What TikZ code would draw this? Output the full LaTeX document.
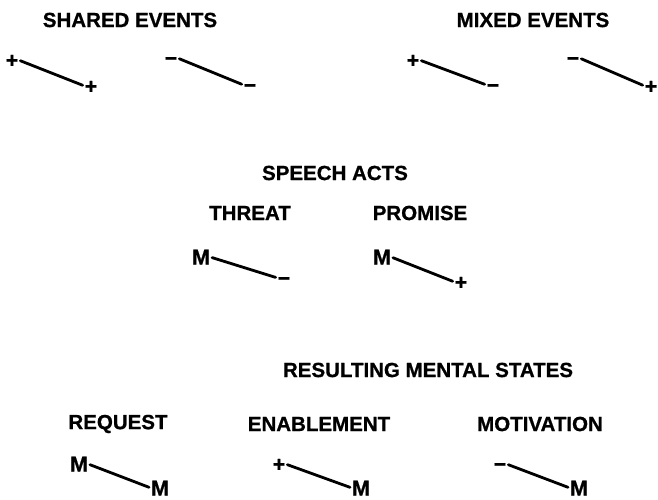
\documentclass[tikz,border=0pt]{standalone}
\usepackage{fontspec}
\setmainfont{Liberation Sans}
\newfontfamily\boldface[FakeBold=0.8]{Liberation Sans Bold}
\begin{document}
\begin{tikzpicture}[
  x=1pt,
  y=-1pt,
  line cap=round,
  heading/.style={font=\boldface\fontsize{20.5}{24}\selectfont,inner sep=0pt},
  sign/.style={font=\boldface\fontsize{21.5}{26}\selectfont,inner sep=0pt,text height=15pt,text depth=0pt},
  link/.style={draw=black,line width=2.8pt,shorten <=2pt,shorten >=2pt}
]
  \useasboundingbox (0,0) rectangle (658,500);

  % Group headings.
  \node[heading] (shared) at (130,20) {SHARED EVENTS};
  \node[heading] (mixed) at (533,20) {MIXED EVENTS};
  \node[heading] (speech) at (335,173) {SPEECH ACTS};
  \node[heading] (threat) at (250,213) {THREAT};
  \node[heading] (promise) at (420,213) {PROMISE};
  \node[heading] (result) at (428,370) {RESULTING MENTAL STATES};
  \node[heading] (request) at (118,424) {REQUEST};
  \node[heading] (enable) at (319,424) {ENABLEMENT};
  \node[heading] (motive) at (540,424) {MOTIVATION};

  % Shared and mixed events.
  \node[sign] (shpA) at (12,60) {+};
  \node[sign] (shpB) at (91,86) {+};
  \node[sign] (shmA) at (171,58) {−};
  \node[sign] (shmB) at (250,85) {−};
  \node[sign] (mxpA) at (413,60) {+};
  \node[sign] (mxpB) at (493,85) {−};
  \node[sign] (mxmA) at (573,58) {−};
  \node[sign] (mxmB) at (651,86) {+};

  % Speech acts.
  \node[sign] (thA) at (201,257) {M};
  \node[sign] (thB) at (284,278) {−};
  \node[sign] (prA) at (382,257) {M};
  \node[sign] (prB) at (461,282) {+};

  % Resulting mental states.
  \node[sign] (rqA) at (79,464) {M};
  \node[sign] (rqB) at (160,488) {M};
  \node[sign] (enA) at (279,464) {+};
  \node[sign] (enB) at (361,488) {M};
  \node[sign] (moA) at (500,464) {−};
  \node[sign] (moB) at (579,488) {M};

  \foreach \s/\t in {shpA/shpB,shmA/shmB,mxpA/mxpB,mxmA/mxmB,thA/thB,prA/prB,rqA/rqB,enA/enB,moA/moB} {
    \draw[link] (\s.east) -- (\t.west);
  }
\end{tikzpicture}
\end{document}
